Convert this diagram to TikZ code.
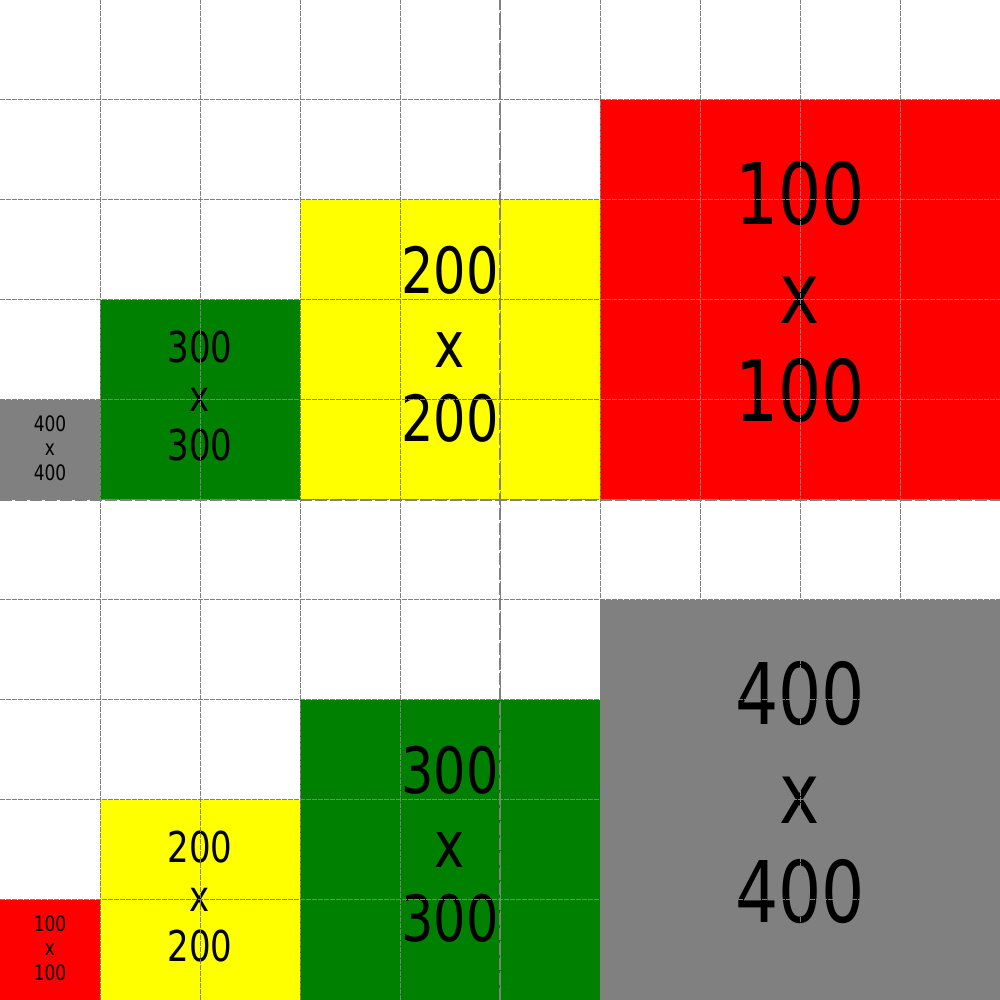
\documentclass[tikz,border=0pt]{standalone}
\usepackage{fontspec}
\setmainfont{DejaVu Sans}[FakeStretch=0.8]
\definecolor{gridgray}{HTML}{808080}
\definecolor{boxgreen}{HTML}{008000}
\definecolor{boxyellow}{HTML}{FFFF00}
\definecolor{boxred}{HTML}{FF0000}
\newcommand{\cellfont}[1]{\fontsize{\fpeval{0.2125*#1}}{\fpeval{0.2474*#1}}\selectfont}
\tikzset{
    cell/.style={minimum size=#1, inner sep=0pt, outer sep=0pt, anchor=south west,
        align=center, font=\cellfont{#1}, text depth=0.0425*#1},
    gridline/.style={gridgray, line width=1pt, dash pattern=on 4.5pt off 1.5pt},
    midline/.style={gridgray, line width=2.5pt, dash pattern=on 12pt off 3pt}
}
\begin{document}
\begin{tikzpicture}[x=1pt, y=1pt]
        \useasboundingbox (0,0) rectangle (1000,1000);
        % upper row
        \node[cell=100, fill=gridgray] (graytop) at (0,500) {400\\x\\400};
        \node[cell=200, fill=boxgreen] (greentop) at (graytop.south east) {300\\x\\300};
        \node[cell=300, fill=boxyellow] (yellowtop) at (greentop.south east) {200\\x\\200};
        \node[cell=400, fill=boxred] (redtop) at (yellowtop.south east) {100\\x\\100};
        % lower row
        \node[cell=100, fill=boxred] (redbottom) at (0,0) {100\\x\\100};
        \node[cell=200, fill=boxyellow] (yellowbottom) at (redbottom.south east) {200\\x\\200};
        \node[cell=300, fill=boxgreen] (greenbottom) at (yellowbottom.south east) {300\\x\\300};
        \node[cell=400, fill=gridgray] (graybottom) at (greenbottom.south east) {400\\x\\400};
        % grid
        \foreach \k in {100,200,...,900} {
            \draw[gridline] (\k,0) -- (\k,1000);
            \draw[gridline] (0,\k) -- (1000,\k);
        }
        \draw[midline] (500,0) -- (500,1000);
        \draw[midline] (0,500) -- (1000,500);
    \end{tikzpicture}
\end{document}
